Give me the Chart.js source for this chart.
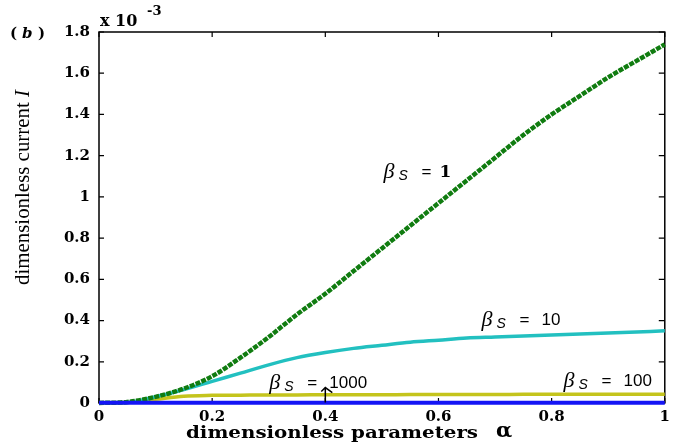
<!DOCTYPE html>
<html lang="en">
<head>
    <meta charset="UTF-8">
    <title>dimensionless current</title>
    <script src="https://cdn.jsdelivr.net/npm/chart.js@4/dist/chart.umd.min.js"></script>
    <style>
        html, body { margin: 0; padding: 0; background: #fff; }
        #wrap { width: 675px; height: 445px; }
    </style>
</head>
<body>
    <div id="wrap"><canvas id="c" width="675" height="445"></canvas></div>
    <script>
        // alpha values (x axis)
        const alpha = [0, 0.05, 0.1, 0.15, 0.2, 0.25, 0.3, 0.35, 0.4, 0.45, 0.5,
                       0.55, 0.6, 0.65, 0.7, 0.75, 0.8, 0.85, 0.9, 0.95, 1];
        // current I, in units of 1e-3
        const beta1 = [0, 0.005, 0.03, 0.07, 0.13, 0.22, 0.32, 0.43, 0.53, 0.64, 0.75,
                       0.86, 0.97, 1.08, 1.19, 1.30, 1.40, 1.49, 1.58, 1.66, 1.74];
        const beta10 = [0, 0.003, 0.03, 0.065, 0.105, 0.145, 0.185, 0.22, 0.245, 0.265, 0.28,
                        0.295, 0.305, 0.315, 0.32, 0.325, 0.33, 0.335, 0.34, 0.345, 0.35];
        const beta100 = [0, 0.003, 0.018, 0.033, 0.037, 0.038, 0.039, 0.039, 0.04, 0.04, 0.04,
                         0.041, 0.041, 0.041, 0.041, 0.042, 0.042, 0.042, 0.042, 0.042, 0.042];
        const beta1000 = [0.001, 0.001, 0.001, 0.001, 0.0015, 0.0015, 0.0015, 0.0015, 0.0015, 0.0015, 0.0015,
                          0.0015, 0.0015, 0.0015, 0.0015, 0.0015, 0.0015, 0.0015, 0.0015, 0.0015, 0.0015];
        const seriesValues = ['1', '10', '100', '1000'];
        // where each series label sits (data coords)
        const labelPos = [[0.503, 1.12], [0.676, 0.40], [0.821, 0.105], [0.301, 0.097]];

        const pts = arr => alpha.map((a, i) => ({ x: a, y: arr[i] }));

        const frame = {
            id: 'frame',
            beforeDatasetsDraw(chart) {
                const ctx = chart.ctx;
                const a = chart.chartArea;
                const xs = chart.scales.x, ys = chart.scales.y;
                ctx.save();
                ctx.strokeStyle = '#000';
                ctx.lineWidth = 1.5;
                ctx.strokeRect(a.left, a.top, a.right - a.left, a.bottom - a.top);
                // inward ticks
                ctx.lineWidth = 1.2;
                ctx.beginPath();
                xs.ticks.forEach(t => {
                    const px = xs.getPixelForValue(t.value);
                    ctx.moveTo(px, a.bottom); ctx.lineTo(px, a.bottom - 5);
                    ctx.moveTo(px, a.top); ctx.lineTo(px, a.top + 5);
                });
                ys.ticks.forEach(t => {
                    const py = ys.getPixelForValue(t.value);
                    ctx.moveTo(a.left, py); ctx.lineTo(a.left + 5, py);
                    ctx.moveTo(a.right, py); ctx.lineTo(a.right - 6, py);
                });
                ctx.stroke();
                ctx.restore();
            },
            afterDraw(chart) {
                const ctx = chart.ctx;
                const xs = chart.scales.x, ys = chart.scales.y;
                ctx.save();
                ctx.fillStyle = '#000';
                ctx.strokeStyle = '#000';
                ctx.textBaseline = 'alphabetic';
                // exponent
                ctx.font = 'bold 16px "DejaVu Serif"';
                ctx.fillText('x 10', 100, 26);
                ctx.font = 'bold 13px "DejaVu Serif"';
                ctx.fillText('-3', 147, 15);
                // (b)
                ctx.font = 'bold 15px "DejaVu Serif"';
                ctx.fillText('(', 10, 38);
                ctx.font = 'bold italic 15px "DejaVu Serif"';
                ctx.fillText('b', 22, 38);
                ctx.font = 'bold 15px "DejaVu Serif"';
                ctx.fillText(')', 38, 38);

                // x title
                ctx.textBaseline = 'middle';
                ctx.font = 'bold 16px "DejaVu Serif"';
                let s = 'dimensionless parameters';
                let w = ctx.measureText(s).width;
                ctx.save();
                ctx.translate(186, 434);
                ctx.scale(292 / w, 1);
                ctx.fillText(s, 0, 0);
                ctx.restore();
                ctx.font = 'bold 21px "DejaVu Serif"';
                ctx.fillText('\u03b1', 496, 432);

                // y title, condensed
                ctx.font = '22px "Liberation Serif"';
                s = 'dimensionless current ';
                w = ctx.measureText(s).width;
                ctx.save();
                ctx.translate(23, 285);
                ctx.rotate(-Math.PI / 2);
                ctx.scale(188 / w, 1);
                ctx.fillText(s, 0, 0);
                ctx.font = 'italic 22px "Liberation Serif"';
                ctx.fillText('I', w, 0);
                ctx.restore();

                // series labels
                labelPos.forEach((p, i) => {
                    const px = xs.getPixelForValue(p[0]);
                    const py = ys.getPixelForValue(p[1]);
                    ctx.textBaseline = 'middle';
                    ctx.font = 'italic 22px "Liberation Serif"';
                    ctx.fillText('\u03b2', px, py);
                    ctx.font = 'italic 14px "Liberation Sans"';
                    ctx.fillText('S', px + 15, py + 4);
                    ctx.font = '17px "Liberation Sans"';
                    ctx.fillText('=', px + 38, py);
                    if (i === 0) ctx.font = 'bold 17px "DejaVu Serif"';
                    ctx.fillText(seriesValues[i], px + (i === 0 ? 56 : 60), py);
                });

                // arrow to the beta = 1000 line
                const ax = xs.getPixelForValue(0.4);
                const y0 = ys.getPixelForValue(0.002), y1 = ys.getPixelForValue(0.075);
                ctx.lineWidth = 1.5;
                ctx.beginPath();
                ctx.moveTo(ax, y0); ctx.lineTo(ax, y1);
                ctx.moveTo(ax - 4, y1 + 4); ctx.lineTo(ax, y1); ctx.lineTo(ax + 7, y1 + 5);
                ctx.stroke();
                ctx.restore();
            }
        };

        new Chart(document.getElementById('c'), {
            type: 'line',
            data: {
                datasets: [
                    { data: pts(beta1000), borderColor: '#1414f5', borderWidth: 4, order: 0 },
                    { data: pts(beta1), borderColor: '#107c10', borderWidth: 4.5, borderDash: [5, 1.2], order: 1 },
                    { data: pts(beta10), borderColor: '#22c0c0', borderWidth: 3.5, order: 2 },
                    { data: pts(beta100), borderColor: '#c4c41c', borderWidth: 3.5, order: 3 }
                ]
            },
            options: {
                responsive: false,
                animation: false,
                layout: { padding: { left: 0, right: 2, top: 32, bottom: 0 } },
                elements: {
                    point: { radius: 0 },
                    line: { cubicInterpolationMode: 'monotone' }
                },
                datasets: { line: { clip: 8 } },
                plugins: { legend: { display: false }, tooltip: { enabled: false } },
                scales: {
                    x: {
                        type: 'linear', min: 0, max: 1,
                        afterFit: s => { s.height = 42; },
                        grid: { display: false, drawTicks: false },
                        border: { display: false },
                        ticks: {
                            stepSize: 0.2, padding: 5, color: '#000', maxRotation: 0,
                            font: { family: 'DejaVu Serif', weight: 'bold', size: 15 },
                            callback: v => String(Math.round(v * 10) / 10)
                        }
                    },
                    y: {
                        min: 0, max: 1.8,
                        afterFit: s => { s.width = 99; },
                        grid: { display: false, drawTicks: false },
                        border: { display: false },
                        ticks: {
                            stepSize: 0.2, padding: 9, color: '#000',
                            font: { family: 'DejaVu Serif', weight: 'bold', size: 15 },
                            callback: v => String(Math.round(v * 10) / 10)
                        }
                    }
                }
            },
            plugins: [frame]
        });
    </script>
</body>
</html>
